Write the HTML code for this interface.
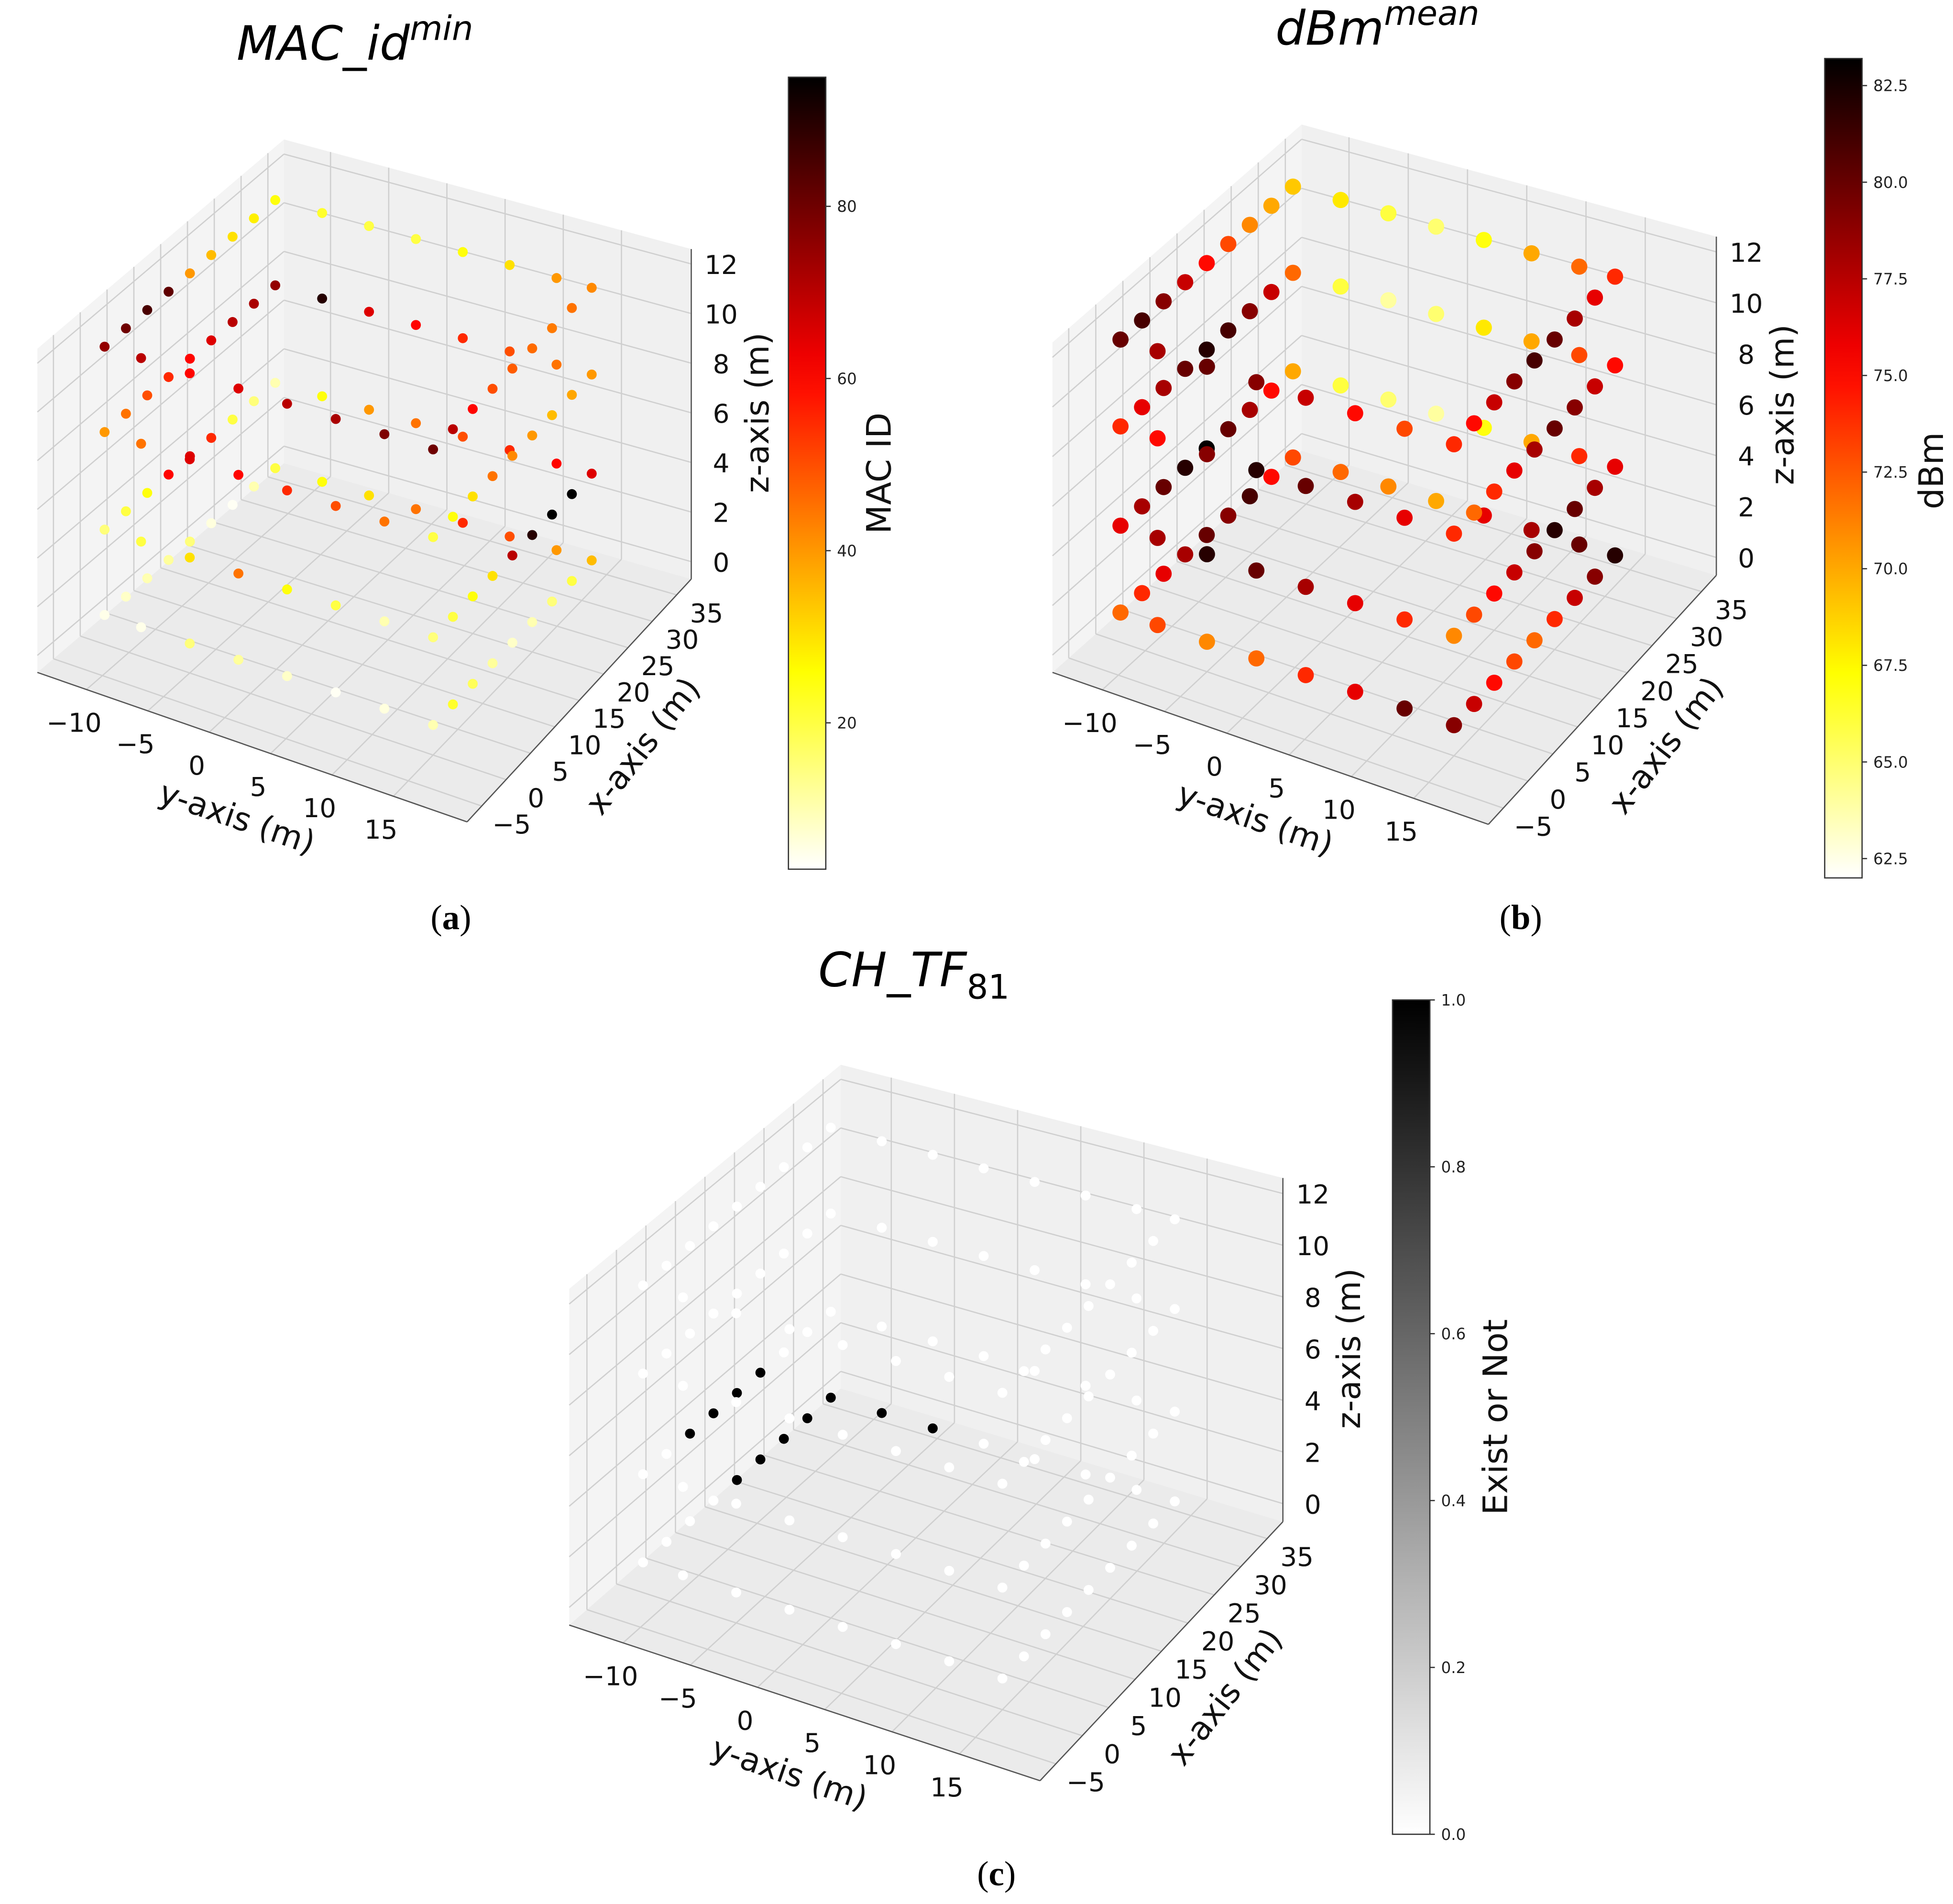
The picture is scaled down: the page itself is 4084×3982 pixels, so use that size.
<!DOCTYPE html>
<html><head><meta charset="utf-8"><style>
html,body{margin:0;padding:0;background:#fff;}
svg{display:block;}
text{font-family:"DejaVu Sans","Liberation Sans",sans-serif;}
</style></head><body>
<svg id="fig" xmlns="http://www.w3.org/2000/svg" width="4084" height="3982" viewBox="0 0 1568 1529" preserveAspectRatio="none">
<defs id="defs"></defs>
<g id="root"></g>
</svg>
<script>
// ---- shared data: sensor positions (x, y in metres) per corridor loop, and floor levels ----
const loopX = [0,4,8,12,16,20,24,28,32, 32,32,32,32,32,32,32, 28,24,20,16,12,8,4,0, 0,0,0,0,0,0];
const loopY = [-12,-12,-12,-12,-12,-12,-12,-12,-12, -8,-4,0,4,8,12,15, 15,15,15,15,15,15,15,15, 11,7,3,-1,-5,-9];
const levels = [0.5, 4, 8, 11.5];
// ---- panel (a) MAC_id min values per level ----
const macL0 = [5,8,10,12,15,6,4,10,20,25,30,45,55,50,40,35,20,15,10,8,12,18,22,10,6,4,8,12,15,5];
const macL1 = [15,20,25,60,65,55,20,15,10,25,40,45,50,55,60,65,95,95,90,70,30,25,20,15,10,20,25,45,30,20];
const macL2 = [40,45,50,55,60,65,70,72,75,90,65,60,55,50,45,40,38,35,40,42,45,30,25,20,45,50,55,60,65,45];
const macL3 = [75,80,85,82,40,35,30,28,25,22,20,20,25,30,40,42,45,44,46,48,50,60,70,80,78,72,70,65,60,70];
// ---- panel (b) dBm mean values per level ----
const dbmL0 = [72,74,76,78,80,79,81,75,73,72,71,70,76,78,80,82,79,77,74,72,73,75,77,79,80,76,74,72,71,73];
const dbmL1 = [76,78,80,82,83,80,78,75,70,66,65,64,67,70,74,76,78,80,82,79,77,75,73,71,74,76,78,80,82,78];
const dbmL2 = [74,76,78,80,82,81,79,77,72,66,64,65,68,70,73,75,77,79,80,78,76,74,72,74,76,78,80,82,79,75];
const dbmL3 = [80,81,79,77,75,73,71,70,69,68,66,65,67,70,72,74,76,78,80,81,79,77,75,74,73,75,77,79,80,78];
// ---- panel (c) CH_TF81 existence per level ----
const chL0 = [0,0,0,0,1,1,1,1,1,1,1,0,0,0,0,0,0,0,0,0,0,0,0,0,0,0,0,0,0,0];
const chL1 = [0,0,1,1,1,1,0,0,0,0,0,0,0,0,0,0,0,0,0,0,0,0,0,0,0,0,0,0,0,0];
const chL2 = [0,0,0,0,0,0,0,0,0,0,0,0,0,0,0,0,0,0,0,0,0,0,0,0,0,0,0,0,0,0];
const chL3 = [0,0,0,0,0,0,0,0,0,0,0,0,0,0,0,0,0,0,0,0,0,0,0,0,0,0,0,0,0,0];
// ---- ticks ----
const yTicks = [-10,-5,0,5,10,15];
const xTicks = [-5,0,5,10,15,20,25,30,35];
const zTicks = [0,2,4,6,8,10,12];
const macCbTicks = [20,40,60,80];
const dbmCbTicks = [62.5,65.0,67.5,70.0,72.5,75.0,77.5,80.0,82.5];
const chCbTicks = [0.0,0.2,0.4,0.6,0.8,1.0];

const NS="http://www.w3.org/2000/svg";
const root=document.getElementById('root');
const defs=document.getElementById('defs');
function mk(tag,attrs,parent){const e=document.createElementNS(NS,tag);for(const k in attrs)e.setAttribute(k,attrs[k]);(parent||root).appendChild(e);return e;}
const YR=[-14,21], XR=[-8,38], ZR=[-0.7,12.6];
function clip(v){return Math.max(0,Math.min(1,v));}
function hotR(t){const s=1-clip(t);const r=clip(s/0.375),g=clip((s-0.375)/0.375),b=clip((s-0.75)/0.25);return `rgb(${Math.round(r*255)},${Math.round(g*255)},${Math.round(b*255)})`;}
function greyR(t){const v=Math.round((1-clip(t))*255);return `rgb(${v},${v},${v})`;}

function panel(cfg){
  const g=mk('g',{});
  
  
  const P=(x,y,z)=>{
    const u=(YR[1]-y)/(YR[1]-YR[0]), v=(x-XR[0])/(XR[1]-XR[0]), w=(z-ZR[0])/(ZR[1]-ZR[0]);
    const c=[(1-u)*(1-v),u*(1-v),(1-u)*v,u*v];
    const pts=[cfg.F,cfg.L,cfg.R,cfg.B];
    let px=0,py=0,h=0;
    for(let i=0;i<4;i++){px+=c[i]*pts[i][0];py+=c[i]*pts[i][1];h+=c[i]*pts[i][2];}
    return [px,py-w*h];
  };
  const poly=(arr,fill,name)=>{const e=mk('polygon',{points:arr.map(p=>p.join(',')).join(' '),fill:fill,stroke:'none'},g);};
  const ln=(a,b,col,w,name)=>{const e=mk('line',{x1:a[0],y1:a[1],x2:b[0],y2:b[1],stroke:col,'stroke-width':w},g);};
  poly([P(XR[0],YR[0],ZR[0]),P(XR[1],YR[0],ZR[0]),P(XR[1],YR[0],ZR[1]),P(XR[0],YR[0],ZR[1])],'#f4f4f4','left-pane');
  poly([P(XR[1],YR[0],ZR[0]),P(XR[1],YR[1],ZR[0]),P(XR[1],YR[1],ZR[1]),P(XR[1],YR[0],ZR[1])],'#f0f0f0','right-pane');
  poly([P(XR[0],YR[0],ZR[0]),P(XR[1],YR[0],ZR[0]),P(XR[1],YR[1],ZR[0]),P(XR[0],YR[1],ZR[0])],'#ebebeb','floor-pane');
  const gc='#cfcfcf';
  yTicks.forEach(t=>{ln(P(XR[0],t,ZR[0]),P(XR[1],t,ZR[0]),gc,1,'floor-grid-y');ln(P(XR[1],t,ZR[0]),P(XR[1],t,ZR[1]),gc,1,'wall-grid-y');});
  xTicks.forEach(t=>{ln(P(t,YR[0],ZR[0]),P(t,YR[1],ZR[0]),gc,1,'floor-grid-x');ln(P(t,YR[0],ZR[0]),P(t,YR[0],ZR[1]),gc,1,'wall-grid-x');});
  zTicks.forEach(t=>{ln(P(XR[0],YR[0],t),P(XR[1],YR[0],t),gc,1,'wall-grid-z');ln(P(XR[1],YR[0],t),P(XR[1],YR[1],t),gc,1,'wall-grid-z');});
  ln(P(XR[0],YR[0],ZR[0]),P(XR[0],YR[1],ZR[0]),'#555',1,'y-axis-line');
  ln(P(XR[0],YR[1],ZR[0]),P(XR[1],YR[1],ZR[0]),'#555',1,'x-axis-line');
  ln(P(XR[1],YR[1],ZR[0]),P(XR[1],YR[1],ZR[1]),'#555',1,'z-axis-line');
  yTicks.forEach(t=>{const p=P(XR[0],t,ZR[0]);const e=mk('text',{x:p[0]-10,y:p[1]+34,'font-size':21,'text-anchor':'middle',fill:'#111'},g);e.textContent=t<0?'\u2212'+(-t):t;});
  xTicks.forEach(t=>{const p=P(t,YR[1],ZR[0]);const e=mk('text',{x:p[0]+24,y:p[1]+22,'font-size':21,'text-anchor':'middle',fill:'#111'},g);e.textContent=t<0?'\u2212'+(-t):t;});
  zTicks.forEach(t=>{const p=P(XR[1],YR[1],t);const e=mk('text',{x:p[0]+24,y:p[1]+8,'font-size':21,'text-anchor':'middle',fill:'#111'},g);e.textContent=t;});
  let q=P(XR[0],(YR[0]+YR[1])/2,ZR[0]);
  let e=mk('text',{x:q[0]-15,y:q[1]+65,'font-size':26,'text-anchor':'middle',transform:`rotate(19 ${q[0]-15} ${q[1]+65})`,fill:'#111'},g);e.textContent='y-axis (m)';
  q=P((XR[0]+XR[1])/2,YR[1],ZR[0]);
  e=mk('text',{x:q[0]+58,y:q[1]+42,'font-size':26,'text-anchor':'middle',transform:`rotate(-52 ${q[0]+58} ${q[1]+42})`,fill:'#111'},g);e.textContent='x-axis (m)';
  q=P(XR[1],YR[1],6);
  e=mk('text',{x:q[0]+62,y:q[1],'font-size':26,'text-anchor':'middle',transform:`rotate(-90 ${q[0]+62} ${q[1]})`,fill:'#111'},g);e.textContent='z-axis (m)';
  const pts=[];
  cfg.vals.forEach((arr,li)=>arr.forEach((v,i)=>{pts.push({x:loopX[i],y:loopY[i],z:levels[li],v:v});}));
  pts.sort((a,b)=>(b.x-a.x)+(a.y-b.y)*0.5);
  pts.forEach(d=>{const p=P(d.x,d.y,d.z);const c=mk('circle',{cx:p[0],cy:p[1],r:cfg.r,fill:cfg.cmap((d.v-cfg.vmin)/(cfg.vmax-cfg.vmin))},g);});
  const gid='grad-'+cfg.name;
  const lg=mk('linearGradient',{id:gid,x1:0,y1:1,x2:0,y2:0},defs);
  for(let i=0;i<=20;i++)mk('stop',{offset:i/20,'stop-color':cfg.cmap(i/20)},lg);
  const cb=cfg.cb;
  const r=mk('rect',{x:cb[0],y:cb[1],width:cb[2],height:cb[3],fill:`url(#${gid})`,stroke:'#333','stroke-width':1},g);
  
  cfg.cbTicks.forEach(t=>{const yy=cb[1]+cb[3]*(1-(t-cfg.vmin)/(cfg.vmax-cfg.vmin));ln([cb[0]+cb[2],yy],[cb[0]+cb[2]+4,yy],'#333',1,'colorbar-tick');const tx=mk('text',{x:cb[0]+cb[2]+9,y:yy+4.5,'font-size':12.5,fill:'#222'},g);tx.textContent=cfg.fmt(t);});
  const lx=cfg.cbLabel[0],ly=cfg.cbLabel[1];
  e=mk('text',{x:lx,y:ly,'font-size':27,'text-anchor':'middle',transform:`rotate(-90 ${lx} ${ly})`,fill:'#111'},g);e.textContent=cfg.cbText;
}

panel({name:'panel-a',F:[375,660,270],L:[30,540,260],R:[555,465,265],B:[228,372,260],r:4,cmap:hotR,vmin:3,vmax:95,
  vals:[macL0,macL1,macL2,macL3],cb:[633,62,30,636],cbTicks:macCbTicks,fmt:t=>t,cbLabel:[715,380],cbText:'MAC ID'});
panel({name:'panel-b',F:[1195,662,275],L:[845,540,265],R:[1378,462,272],B:[1045,362,262],r:6.5,cmap:hotR,vmin:62,vmax:83.2,
  vals:[dbmL0,dbmL1,dbmL2,dbmL3],cb:[1465,47,30,658],cbTicks:dbmCbTicks,fmt:t=>t.toFixed(1),cbLabel:[1560,378],cbText:'dBm'});
panel({name:'panel-c',F:[835,1430,280],L:[457,1305,270],R:[1030,1222,276],B:[675,1115,260],r:4,cmap:greyR,vmin:0,vmax:1,
  vals:[chL0,chL1,chL2,chL3],cb:[1118,803,30,670],cbTicks:chCbTicks,fmt:t=>t.toFixed(1),cbLabel:[1210,1138],cbText:'Exist or Not'});

function title(x,y,main,sup,sub,name){
  const t=mk('text',{x:x,y:y,'font-size':38,'font-style':'italic',fill:'#000'});
  
  const a=mk('tspan',{},t);a.textContent=main;
  if(sup){const s=mk('tspan',{dy:-16,'font-size':27},t);s.textContent=sup;}
  if(sub){const s=mk('tspan',{dy:10,'font-size':27,'font-style':'normal'},t);s.textContent=sub;}
}
title(190,48,'MAC_id','min',null,'title-a');
title(1024,36,'dBm','mean',null,'title-b');
title(657,792,'CH_TF','','81','title-c');
function cap(x,y,s,name){const t=mk('text',{x:x,y:y,'font-size':28,'text-anchor':'middle',fill:'#000',style:'font-family:"Liberation Serif",serif'});
 const a=mk('tspan',{},t);a.textContent='(';const b=mk('tspan',{'font-weight':'bold'},t);b.textContent=s;const c=mk('tspan',{},t);c.textContent=')';}
cap(362,746,'a','caption-a');cap(1221,746,'b','caption-b');cap(800,1514,'c','caption-c');
</script>
</body></html>
